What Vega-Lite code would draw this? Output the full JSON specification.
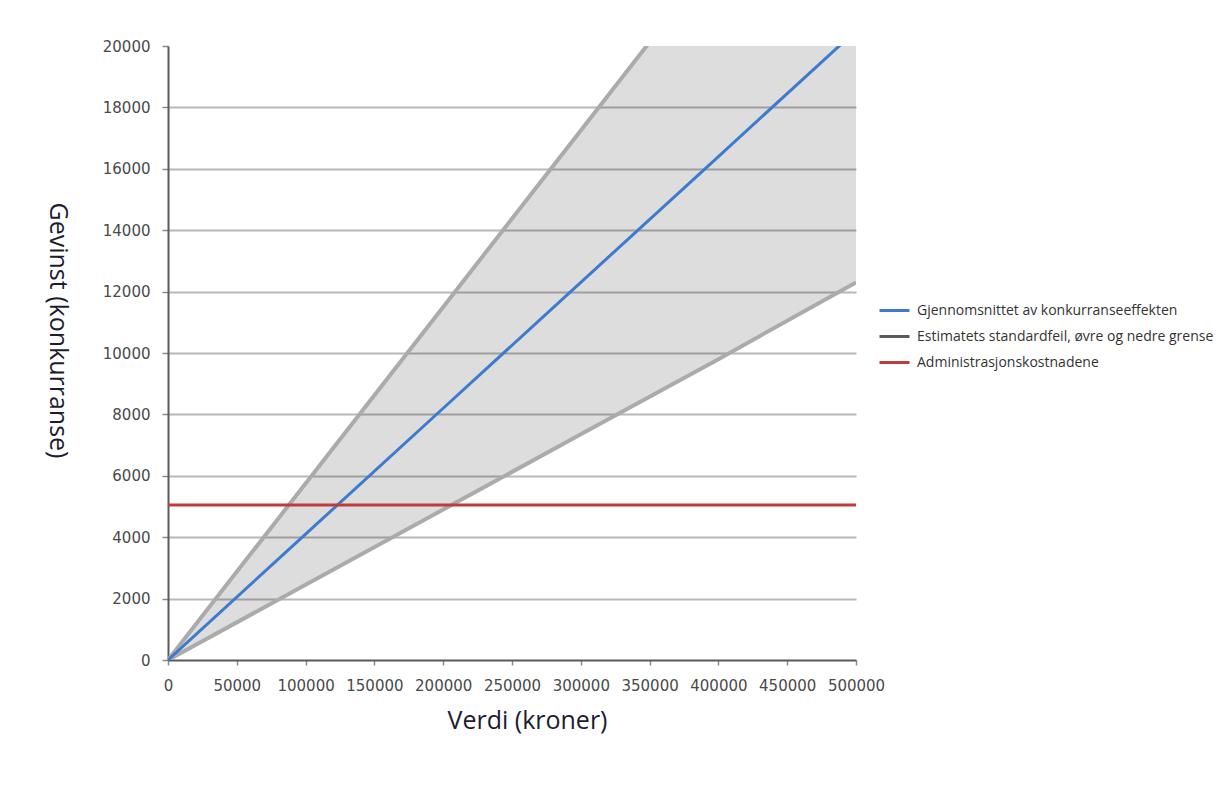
{
  "$schema": "https://vega.github.io/schema/vega-lite/v6.json",
  "autosize": {"type": "none"},
  "width": 688,
  "height": 614,
  "padding": {"left": 168, "top": 46, "right": 374, "bottom": 132},
  "background": "#ffffff",
  "config": {
    "view": {"stroke": null},
    "font": "Open Sans"
  },
  "datasets": {
    "effekt": [
      {"verdi": 0, "snitt": 0, "ovre": 0, "nedre": 0},
      {"verdi": 100000, "snitt": 4100, "ovre": 5750, "nedre": 2450},
      {"verdi": 200000, "snitt": 8200, "ovre": 11500, "nedre": 4900},
      {"verdi": 300000, "snitt": 12300, "ovre": 17250, "nedre": 7350},
      {"verdi": 400000, "snitt": 16400, "ovre": 23000, "nedre": 9800},
      {"verdi": 500000, "snitt": 20500, "ovre": 28750, "nedre": 12300}
    ],
    "kostnad": [
      {"verdi": 0, "kostnad": 5050},
      {"verdi": 500000, "kostnad": 5050}
    ]
  },
  "encoding": {
    "x": {
      "field": "verdi",
      "type": "quantitative",
      "scale": {"domain": [0, 500000], "nice": false},
      "axis": {
        "title": "Verdi (kroner)",
        "values": [0, 50000, 100000, 150000, 200000, 250000, 300000, 350000, 400000, 450000, 500000],
        "format": "d",
        "grid": false,
        "domainColor": "#5a5a5a",
        "domainWidth": 2,
        "tickColor": "#8a8a8a",
        "tickSize": 5,
        "tickWidth": 1.5,
        "labelFont": "DejaVu Sans",
        "labelFontSize": 15,
        "labelColor": "#4a4a4a",
        "labelPadding": 13,
        "labelFlush": false,
        "labelOverlap": false,
        "titleFont": "Open Sans",
        "titleFontSize": 25,
        "titleFontWeight": "normal",
        "titleColor": "#1c1c30",
        "titleX": 359,
        "titleY": 60,
        "titleAlign": "center",
        "titleBaseline": "middle"
      }
    },
    "y": {
      "type": "quantitative",
      "scale": {"domain": [0, 20000], "nice": false},
      "axis": {
        "title": "Gevinst (konkurranse)",
        "values": [0, 2000, 4000, 6000, 8000, 10000, 12000, 14000, 16000, 18000, 20000],
        "format": "d",
        "grid": true,
        "gridColor": {
          "condition": {"test": "datum.value <= 0 || datum.value >= 20000", "value": "transparent"},
          "value": "#b8b8b8"
        },
        "gridWidth": 2,
        "domainColor": "#5a5a5a",
        "domainWidth": 2,
        "tickColor": "#8a8a8a",
        "tickSize": 6,
        "tickWidth": 1.5,
        "labelFont": "DejaVu Sans",
        "labelFontSize": 15,
        "labelColor": "#4a4a4a",
        "labelPadding": 12,
        "labelFlush": false,
        "titleFont": "Open Sans",
        "titleFontSize": 25,
        "titleFontWeight": "normal",
        "titleColor": "#1c1c30",
        "titleAngle": 90,
        "titleX": -111,
        "titleY": 284,
        "titleAlign": "center",
        "titleBaseline": "middle"
      }
    }
  },
  "layer": [
    {
      "data": {"name": "effekt"},
      "mark": {"type": "area", "fill": "#000000", "fillOpacity": 0.135, "clip": true},
      "encoding": {
        "y": {"field": "ovre"},
        "y2": {"field": "nedre"}
      }
    },
    {
      "data": {"name": "effekt"},
      "transform": [{"fold": ["ovre", "nedre"], "as": ["grense", "gevinst"]}],
      "mark": {"type": "line", "stroke": "#ababab", "strokeWidth": 4, "clip": true},
      "encoding": {
        "y": {"field": "gevinst"},
        "detail": {"field": "grense"}
      }
    },
    {
      "data": {"name": "effekt"},
      "mark": {"type": "line", "strokeWidth": 3, "clip": true},
      "encoding": {
        "y": {"field": "snitt"},
        "color": {
          "datum": "Gjennomsnittet av konkurranseeffekten",
          "type": "nominal",
          "scale": {
            "domain": [
              "Gjennomsnittet av konkurranseeffekten",
              "Estimatets standardfeil, øvre og nedre grense",
              "Administrasjonskostnadene"
            ],
            "range": ["#3f7bcc", "#5a5a5a", "#c23b3b"]
          },
          "legend": {
            "title": null,
            "orient": "none",
            "legendX": 710,
            "legendY": 248,
            "symbolType": "stroke",
            "symbolStrokeWidth": 3,
            "symbolSize": 900,
            "labelFont": "Open Sans",
            "labelFontSize": 14,
            "labelColor": "#333333",
            "labelLimit": 400,
            "labelOffset": 6,
            "rowPadding": 2
          }
        }
      }
    },
    {
      "data": {"name": "kostnad"},
      "mark": {"type": "line", "strokeWidth": 3, "clip": true},
      "encoding": {
        "y": {"field": "kostnad"},
        "color": {"datum": "Administrasjonskostnadene", "type": "nominal"}
      }
    }
  ]
}
